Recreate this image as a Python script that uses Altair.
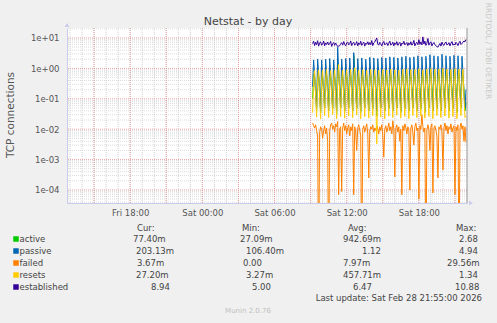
import altair as alt
import pandas as pd

# ------------------------------------------------------------------ data
# time axis: hours counted from Fri 00:00, samples every 5 minutes
start_hour = 33.1667          # first sample ~ Sat 09:10
step_hour = 5.0 / 60.0

active = [
    0.10, 0.65, 0.50, 0.20,  0.04, 0.70, 0.55, 0.22,  0.035, 0.62, 0.48, 0.18,
    0.05, 0.75, 0.58, 0.21,  0.04, 0.68, 0.52, 0.19,  0.045, 0.72, 0.50, 0.23,
    0.03, 1.50, 0.70, 0.24,  0.05, 0.66, 0.52, 0.20,  0.04, 0.72, 0.55, 0.22,
    0.05, 0.78, 0.60, 0.19,  0.04, 2.68, 0.90, 0.25,  0.045, 0.66, 0.50, 0.21,
    0.035, 0.70, 0.54, 0.23, 0.05, 0.64, 0.49, 0.18,  0.04, 0.76, 0.58, 0.22,
    0.045, 0.70, 0.53, 0.24, 0.027, 0.66, 0.50, 0.19, 0.05, 0.78, 0.60, 0.21,
    0.04, 0.70, 0.52, 0.20,  0.045, 0.82, 0.62, 0.23, 0.04, 0.72, 0.54, 0.21,
    0.05, 0.66, 0.50, 0.19,  0.035, 0.78, 0.58, 0.24, 0.045, 0.84, 0.60, 0.20,
    0.04, 0.72, 0.55, 0.22,  0.05, 0.76, 0.57, 0.21,  0.04, 0.88, 0.64, 0.23,
    0.045, 0.70, 0.53, 0.19, 0.035, 0.78, 0.58, 0.22, 0.05, 0.92, 0.66, 0.24,
    0.04, 0.82, 0.60, 0.20,  0.045, 0.76, 0.56, 0.23, 0.04, 0.96, 0.68, 0.21,
    0.05, 0.84, 0.60, 0.22,  0.04, 0.76, 0.55, 0.20,  0.045, 0.88, 0.63, 0.24,
    0.035, 0.82, 0.60, 0.21, 0.05, 0.78, 0.57, 0.19,  0.04, 0.0774,
]

passive = [
    0.25, 1.9, 0.62, 0.15,  0.05, 2.0, 0.70, 0.14,  0.04, 1.9, 0.58, 0.17,
    0.05, 2.0, 0.66, 0.13,  0.04, 2.1, 0.72, 0.16,  0.05, 1.9, 0.60, 0.14,
    0.04, 4.94, 0.85, 0.18, 0.05, 2.0, 0.64, 0.15,  0.04, 2.1, 0.70, 0.13,
    0.05, 2.2, 0.68, 0.16,  0.04, 3.3, 0.75, 0.15,  0.05, 2.1, 0.62, 0.14,
    0.04, 2.2, 0.70, 0.17,  0.05, 2.0, 0.66, 0.15,  0.04, 2.3, 0.72, 0.14,
    0.05, 2.2, 0.64, 0.16,  0.04, 2.1, 0.70, 0.15,  0.05, 2.3, 0.74, 0.13,
    0.04, 2.2, 0.66, 0.16,  0.05, 2.4, 0.72, 0.15,  0.04, 2.3, 0.68, 0.14,
    0.05, 2.2, 0.70, 0.17,  0.04, 2.4, 0.74, 0.15,  0.05, 2.5, 0.66, 0.14,
    0.04, 2.3, 0.72, 0.16,  0.05, 2.4, 0.70, 0.15,  0.04, 2.6, 0.76, 0.13,
    0.05, 2.4, 0.68, 0.16,  0.04, 2.5, 0.72, 0.15,  0.05, 2.8, 0.78, 0.14,
    0.04, 2.6, 0.70, 0.16,  0.05, 2.5, 0.74, 0.15,  0.04, 2.9, 0.80, 0.14,
    0.05, 2.6, 0.72, 0.17,  0.04, 2.5, 0.70, 0.15,  0.05, 2.7, 0.76, 0.14,
    0.04, 2.6, 0.72, 0.16,  0.05, 2.5, 0.70, 0.15,  0.05, 0.2031,
]

failed = [
    0.016, 0.013, 0.011, 0.014, 0.009, 0.006, 0.0, 0.008, 0.012, 0.010,
    0.005, 0.009, 0.013, 0.007, 0.011, 0.004, 0.0, 0.009, 0.014, 0.016,
    0.010, 0.013, 0.008, 0.015, 0.012, 0.018, 0.00007, 0.010, 0.012, 0.00009,
    0.011, 0.016, 0.009, 0.013, 0.007, 0.011, 0.014, 0.006, 0.012, 0.009,
    0.015, 0.00007, 0.012, 0.008, 0.002, 0.011, 0.014, 0.009, 0.006, 0.0,
    0.010, 0.013, 0.008, 0.011, 0.015, 0.007, 0.00025, 0.009, 0.012, 0.010,
    0.014, 0.008, 0.011, 0.009, 0.013, 0.010, 0.007, 0.012, 0.009, 0.014,
    0.006, 0.0012, 0.010, 0.013, 0.008, 0.011, 0.016, 0.009, 0.012, 0.007,
    0.019, 0.010, 0.00027, 0.011, 0.014, 0.008, 0.012, 0.004, 0.010, 0.00007,
    0.013, 0.009, 0.015, 0.011, 0.007, 0.012, 0.010, 0.0001, 0.011, 0.014,
    0.008, 0.003, 0.012, 0.016, 0.009, 0.011, 0.00005, 0.013, 0.010, 0.0296,
    0.012, 0.008, 0.011, 0.0, 0.009, 0.014, 0.010, 0.002, 0.012, 0.015,
    0.00008, 0.011, 0.013, 0.009, 0.006, 0.00025, 0.012, 0.010, 0.014, 0.008,
    0.00046, 0.011, 0.016, 0.009, 0.013, 0.007, 0.012, 0.010, 0.015, 0.008,
    0.011, 0.013, 0.00007, 0.012, 0.009, 0.014, 0.0, 0.011, 0.016, 0.010,
    0.013, 0.004, 0.012, 0.00367,
]

resets = [
    0.035, 0.40, 0.85, 0.12,  0.025, 0.45, 0.90, 0.10,  0.022, 0.42, 0.88, 0.13,
    0.028, 0.48, 0.92, 0.11,  0.024, 0.44, 0.86, 0.12,  0.030, 0.46, 0.90, 0.10,
    0.022, 0.50, 1.34, 0.14,  0.026, 0.44, 0.88, 0.12,  0.023, 0.47, 0.90, 0.11,
    0.027, 0.45, 0.93, 0.13,  0.024, 0.52, 1.05, 0.12,  0.029, 0.44, 0.89, 0.10,
    0.022, 0.46, 0.91, 0.12,  0.026, 0.43, 0.87, 0.11,  0.023, 0.48, 0.94, 0.13,
    0.028, 0.45, 0.90, 0.12,  0.0033, 0.44, 0.88, 0.10, 0.025, 0.47, 0.92, 0.12,
    0.022, 0.45, 0.89, 0.11,  0.027, 0.49, 0.95, 0.13,  0.024, 0.46, 0.90, 0.12,
    0.029, 0.44, 0.88, 0.10,  0.023, 0.48, 0.93, 0.12,  0.026, 0.50, 0.96, 0.11,
    0.022, 0.46, 0.91, 0.13,  0.028, 0.47, 0.92, 0.12,  0.024, 0.51, 0.97, 0.11,
    0.027, 0.46, 0.90, 0.12,  0.023, 0.48, 0.94, 0.13,  0.026, 0.52, 0.98, 0.12,
    0.022, 0.49, 0.93, 0.11,  0.028, 0.47, 0.95, 0.12,  0.024, 0.53, 1.00, 0.13,
    0.027, 0.48, 0.94, 0.11,  0.023, 0.47, 0.92, 0.12,  0.026, 0.50, 0.97, 0.13,
    0.022, 0.49, 0.95, 0.12,  0.028, 0.47, 0.93, 0.11,  0.024, 0.0272,
]

established = [
    6.5, 7.8, 5.6, 7.2, 6.0, 8.1, 5.4, 6.8, 7.5, 5.8,
    6.2, 7.9, 5.5, 6.9, 6.1, 7.4, 5.9, 6.6, 7.7, 5.3,
    6.4, 7.1, 5.7, 6.8, 6.0, 5.2, 5.4, 5.6, 6.3, 7.0,
    5.8, 7.6, 6.2, 5.5, 6.9, 7.3, 5.9, 6.5, 8.0, 5.6,
    6.7, 7.2, 5.8, 6.4, 7.6, 5.5, 6.9, 6.1, 7.8, 5.7,
    6.6, 7.3, 5.4, 6.8, 6.2, 7.5, 5.9, 7.1, 6.0, 8.2,
    5.6, 6.9, 7.4, 8.6, 10.0, 6.3, 5.8, 7.2, 6.5, 5.5,
    6.8, 7.7, 5.9, 6.4, 7.0, 5.6, 6.7, 7.9, 5.8, 6.2,
    7.3, 5.5, 6.9, 6.1, 7.6, 5.7, 6.6, 7.2, 5.4, 6.8,
    6.3, 7.8, 5.9, 6.5, 7.1, 5.6, 6.9, 6.0, 7.5, 5.8,
    6.4, 8.3, 5.5, 6.7, 7.2, 6.0, 8.8, 6.2, 7.4, 5.9,
    10.88, 6.3, 7.9, 5.7, 6.6, 9.6, 5.8, 6.9, 7.5, 5.5,
    6.4, 7.1, 6.0, 5.6, 5.2, 5.0, 5.8, 6.6, 5.4, 7.3,
    6.1, 5.7, 6.8, 7.4, 5.9, 6.2, 7.0, 5.5, 6.7, 7.6,
    5.8, 6.4, 5.9, 7.2, 6.5, 5.6, 6.9, 7.8, 6.1, 6.6,
    7.3, 8.0, 7.5, 8.94,
]

series_names = ["active", "passive", "failed", "resets", "established"]
series_colors = ["#00CC00", "#0066B3", "#FF8000", "#FFCC00", "#330099"]
cur_vals = ["77.40m", "203.13m", "3.67m", "27.20m", "8.94"]
min_vals = ["27.09m", "106.40m", "0.00", "3.27m", "5.00"]
avg_vals = ["942.69m", "1.12", "7.97m", "457.71m", "6.47"]
max_vals = ["2.68", "4.94", "29.56m", "1.34", "10.88"]

x_tick_hours = [18, 24, 30, 36, 42]
x_tick_labels = ["Fri 18:00", "Sat 00:00", "Sat 06:00", "Sat 12:00", "Sat 18:00"]
y_ticks = [1e-4, 1e-3, 1e-2, 1e-1, 1e0, 1e1]

title_text = "Netstat - by day"
y_title = "TCP connections"
side_text = "RRDTOOL / TOBI OETIKER"
last_update = "Last update: Sat Feb 28 21:55:00 2026"
footer = "Munin 2.0.76"

# ------------------------------------------------------------------ layout
FONT = "DejaVu Sans"
PL, PT = 67, 28            # plot origin in the page
PW, PH = 400, 175
X_DOMAIN = [12.75, 46.0]
Y_DOMAIN = [3.73e-5, 21.3]

xs = alt.Scale(domain=X_DOMAIN, nice=False, zero=False)
ys = alt.Scale(type="log", domain=Y_DOMAIN, nice=False)

x_expr = "".join(f"datum.value == {h} ? '{l}' : " for h, l in zip(x_tick_hours, x_tick_labels)) + "''"
x_axis = alt.Axis(values=x_tick_hours, labelExpr=x_expr, ticks=False, grid=False,
                  domainColor="#C8CCEC", labelFont=FONT, labelFontSize=8.5,
                  labelColor="#555555", labelPadding=5, labelOverlap=False, title=None)
y_axis = alt.Axis(values=y_ticks,
                  labelExpr="replace(replace(format(datum.value, '.0e'), 'e+', 'e+0'), 'e-', 'e-0')",
                  ticks=False, grid=False, domainColor="#C8CCEC", labelFont=FONT,
                  labelFontSize=8.5, labelColor="#555555", labelPadding=8,
                  labelOverlap=False, labelFlush=False, title=None)

X = alt.X("t:Q", scale=xs, axis=x_axis, title=None)
Y = alt.Y("v:Q", scale=ys, axis=y_axis, title=None)

# grids
minor_h = [m * 10.0 ** e for e in range(-5, 2) for m in range(2, 10)
           if Y_DOMAIN[0] <= m * 10.0 ** e <= Y_DOMAIN[1]]
major_h = y_ticks
minor_v = [h for h in range(13, 47)]
major_v = [h for h in range(15, 47, 3)]

def vgrid(vals, color, op):
    return alt.Chart(pd.DataFrame({"t": vals})).mark_rule(
        color=color, strokeWidth=1, strokeDash=[1, 1], opacity=op).encode(x=X)

def hgrid(vals, color, op):
    return alt.Chart(pd.DataFrame({"v": vals})).mark_rule(
        color=color, strokeWidth=1, strokeDash=[1, 1], opacity=op).encode(y=Y)

layers = [
    vgrid(minor_v, "#C4C4C4", 0.8),
    hgrid(minor_h, "#C4C4C4", 0.6),
    vgrid(major_v, "#E89A9A", 0.9),
    hgrid(major_h, "#E89A9A", 0.9),
]

for name, color, vals in zip(series_names, series_colors,
                             [active, passive, failed, resets, established]):
    df = pd.DataFrame({"t": [start_hour + i * step_hour for i in range(len(vals))],
                       "raw": vals})
    layers.append(
        alt.Chart(df).transform_calculate(v="max(datum.raw, 1e-7)")
        .mark_line(color=color, strokeWidth=1, clip=True, interpolate="linear")
        .encode(x=X, y=Y)
    )

# right frame line and axis arrows
layers.append(alt.Chart(pd.DataFrame({"a": [0]})).mark_rule(color="#A0A0A0", strokeWidth=1)
              .encode(x=alt.value(PW), y=alt.value(0), y2=alt.value(PH)))
layers.append(alt.Chart(pd.DataFrame({"a": [0]})).mark_point(
    shape="triangle-up", filled=True, color="#C8CCEC", size=22, opacity=1)
    .encode(x=alt.value(0), y=alt.value(-3)))
layers.append(alt.Chart(pd.DataFrame({"a": [0]})).mark_point(
    shape="triangle-right", filled=True, color="#C8CCEC", size=22, opacity=1)
    .encode(x=alt.value(PW + 4), y=alt.value(PH)))


def T(text, ax, ay, size=8.5, color="#444444", align="left", angle=0, baseline="middle"):
    return alt.Chart(pd.DataFrame({"s": [text]})).mark_text(
        align=align, baseline=baseline, font=FONT, fontSize=size, color=color,
        angle=angle).encode(x=alt.value(ax - PL), y=alt.value(ay - PT), text="s:N")


layers.append(T(title_text, 248, 25, size=11, color="#444444", align="center",
                baseline="alphabetic"))
layers.append(T(y_title, 11, 115, size=10.5, color="#555555", align="center", angle=270))
layers.append(T(side_text, 488, 51, size=7.5, color="#C8C8C8", align="center", angle=90))

# legend
header_x = [137, 242, 348, 456]
for txt, hx in zip(["Cur:", "Min:", "Avg:", "Max:"], header_x):
    layers.append(T(txt, hx, 228))

row_y = [239, 251, 263, 275, 287]
cur_x = [133, 136, 137, 136, 151]
min_x = [240, 246, 243, 246, 252]
avg_x = [343, 362, 343, 343, 353]
max_x = [459, 459, 447, 459, 455]
for k in range(len(series_names)):
    yk = row_y[k]
    layers.append(alt.Chart(pd.DataFrame({"a": [0]})).mark_square(
        color=series_colors[k], size=30, opacity=1)
        .encode(x=alt.value(16 - PL), y=alt.value(yk - PT)))
    layers.append(T(series_names[k], 19.5, yk))
    layers.append(T(cur_vals[k], cur_x[k], yk))
    layers.append(T(min_vals[k], min_x[k], yk))
    layers.append(T(avg_vals[k], avg_x[k], yk))
    layers.append(T(max_vals[k], max_x[k], yk))

layers.append(T(last_update, 482, 298, align="right"))
layers.append(T(footer, 248, 311, size=7, color="#C0C0C0", align="center"))

chart = alt.layer(*layers).properties(
    width=PW, height=PH,
    background="#F0F0F0",
    padding={"left": PL, "top": PT, "right": 497 - PL - PW, "bottom": 323 - PT - PH},
    autosize=alt.AutoSizeParams(type="none"),
).configure_view(fill="white", stroke=None)

chart.save("out.html", embed_options={"renderer": "svg", "actions": False})
